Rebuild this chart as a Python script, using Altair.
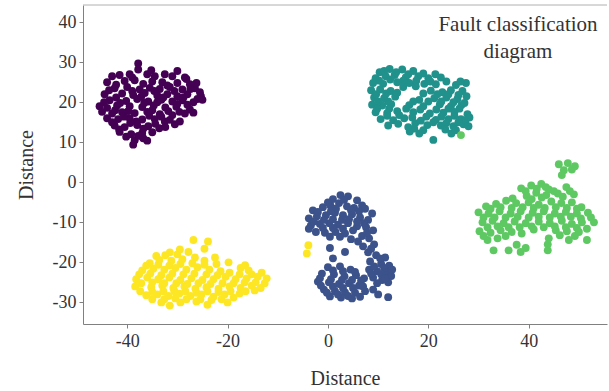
import altair as alt
import pandas as pd

# ---- data ----
purple_x = [-37.8, -37.8, -39.5, -43, -41.5, -36, -34.5, -32.5, -31, -28.5,
            -44, -40.5, -38.5, -35, -33, -30, -27.5,
            -42.5, -40, -37.5, -35.5, -33.5, -31.5, -29, -26.5, -25.5,
            -44.5, -41, -38.8, -36.5, -34, -32, -30, -28, -25.3,
            -43.5, -40.2, -38, -35.8, -33.2, -31, -29, -26.8,
            -45.5, -44, -42, -39.5, -37, -34.7, -32.4, -30.2, -27.5,
            -43, -41, -38.5, -36, -33.5, -31, -28.5,
            -44, -41.8, -39.5, -37, -34.5, -32.5, -30.5,
            -42.5, -40.5, -38, -35.8, -33.6,
            -41.5, -39.2, -37, -35,
            -38.5, -36.8, -38.8,
            -39, -35.2, -30, -42.2, -36.8, -32, -28.2, -26.2,
            -43.6, -39, -34.6, -30.6, -27.4,
            -42.2, -37.2, -32.8, -28.8, -26, -25,
            -44.6, -41.4, -36.6, -34, -30, -28,
            -45, -42.4, -39.8, -35, -31.8, -29.6, -26.8,
            -43, -40.6, -38.2, -35.6, -33.2, -31.5, -29.5,
            -41.6, -39.4, -36.8, -34.4, -32.4,
            -40.2, -37.8, -36]
purple_y = [29.7, 28.2, 27.0, 26.5, 26.8, 27, 26.5, 27, 26.5, 26.2,
            25, 25.3, 25.5, 25.2, 25, 24.8, 24.5,
            23.5, 23.8, 23.2, 23.6, 23.3, 23.8, 23.2, 23.5, 22.5,
            22, 22.2, 21.8, 22.3, 21.7, 22, 21.5, 22, 21.5,
            20.5, 20.3, 20.8, 20.2, 20.6, 20.2, 20.5, 20,
            19, 18.6, 19.2, 19, 18.8, 19.2, 18.7, 18.9, 18.2,
            17.2, 17.5, 17.3, 17.6, 17, 16.8, 17.2,
            16, 15.8, 16, 15.7, 15.8, 15.2, 14.5,
            14.2, 13.8, 14.3, 14, 13.5,
            12.6, 12, 12.3, 12.5,
            10.5, 11, 9.4,
            26.2, 28, 27.8, 24.4, 24.6, 24.2, 25.8, 24.8,
            23, 22.8, 22.8, 22.8, 23.3,
            21.2, 21.4, 21.2, 21.2, 20.8, 20.6,
            20, 19.8, 19.8, 20, 19.6, 19.4,
            17.6, 18, 17.8, 18, 17.8, 17.6, 17.4,
            15, 16.4, 15.2, 16.6, 16.4, 15.6, 15.2,
            13.2, 14.8, 13.4, 14.6, 13.8,
            11.4, 11.6, 10.4]

teal_x = [10.3, 12.3, 14.8, 17,
          9.5, 11.5, 13.3, 15.5, 18, 20, 22.5,
          9, 11, 13.8, 16.2, 19.2, 21.5, 25.5, 27.5,
          8.6, 10.4, 12.5, 15, 17.5, 20.5, 22.8, 24.5, 26.8,
          9.2, 11.2, 13.4, 18.2, 21.2, 23.6, 25.8, 27.6,
          8.8, 10.8, 12.6, 16.2, 19, 22.3, 24.5, 26.6,
          9.5, 11.8, 13.8, 17, 20.3, 23, 25.2, 27.8,
          10.5, 13, 15.2, 18.5, 21.5, 24, 26.5, 28.2,
          16, 19.8, 22.5, 25, 27,
          16.3, 18.2, 24.6, 25.5,
          21,
          11.2, 13.6, 16, 19, 21.4,
          10.2, 12.4, 15, 17.6, 20.4, 23.6, 26.4,
          9.6, 11.6, 13.8, 19, 21.8, 24, 26,
          10, 12, 17, 20, 22.6, 25, 27.2,
          9.8, 12.2, 15.6, 18.4, 21.6, 24, 26.2,
          11.8, 14.2, 16.8, 19.6, 22.6, 25.2, 27.4,
          12, 14, 17.4, 21, 23.6, 26, 28,
          17.2, 19, 23.4]
teal_y = [27.5, 28.3, 28.2, 27.8,
          26, 26.5, 26.8, 26.2, 26.5, 26, 26.2,
          24.8, 24.6, 25, 24.8, 24.6, 24.5, 24.3, 24.8,
          23, 23.2, 22.8, 23.8, 24.0, 22.9, 22.5, 23, 22.8,
          21.2, 21, 21.4, 20.6, 21, 21.2, 20.8, 21.5,
          19.4, 19.2, 19.5, 19.3, 19, 19.5, 19, 19.3,
          17.5, 17.3, 17.8, 17.5, 17.2, 17.4, 17.6, 17,
          15.8, 15.5, 16, 15.4, 15.6, 15.8, 15.8, 16.2,
          13.8, 14.3, 14.2, 14, 14.5,
          12.7, 12.2, 12.2, 13,
          10.6,
          27.8, 27.5, 27, 27.2, 27,
          25.4, 25.7, 25.4, 25.4, 25.2, 25.2, 25.2,
          22, 22.2, 22.4, 22.2, 22, 22, 21.8,
          20.2, 20.2, 20.2, 20.2, 20.2, 20, 19.8,
          18.4, 18.4, 18.4, 18.2, 18.2, 18.4, 18.4,
          16.6, 16.8, 16.2, 16.4, 16.4, 16.6, 15.4,
          14.2, 14.6, 14.8, 15, 14.8, 15, 14,
          13.4, 13, 13.2]

blue_x = [2.5, 4, 1, 5.8, 6.8,
          -3, -1, 0.5, 2.2, 3.8, 5.2, 7.4, 8.8,
          -3.8, -2.2, -0.4, 1.4, 3, 4.8, 6.4, 8,
          -3.4, -1.6, 0.3, 2, 4, 5.8, 7.6, 9,
          -2.4, -0.6, 1.5, 3.4, 6.8, 8.2, 4.6, 9.2, 7,
          0.4, 1, 3.4, 8,
          0, 2.4, 4.5, -1.2, 1.2, 3.3, 5.6, 7.2,
          -2, 0.2, 2.2, 4.2, 6.2, -0.8, 1.4, 3.4, 5.4, 7.4, 2.6, 4.8, 0.4,
          9.6, 11.4, 8.4, 10.6, 12.2, 8.2, 9.8, 11.8, 12.6, 9, 10.8, 12,
          10, 12, 9,
          3.2, 0, 1.6, 4.6, 6.2, -2, 0.6, 2.8, -2.8, -0.8, 1, 4.2, 5.8, 7.2,
          -3.8, -1, 1, 3, 5, 7.8, 0.4, 2.4, 6, 8.6,
          1, 3, 5.4, -1.6, 0.6, 2.8, 4.8, 6.6, -1.4, 1, 3, 5, 7, 2, 4, 6.4, -0.2,
          10.4, 9.2, 11.2, 10.6, 8.6, 12.8, 11.4, 9.8]
blue_y = [-3.2, -3.5, -4.2, -4.5, -5.8,
          -7, -6.2, -5.8, -5.2, -6, -6.4, -6.6, -7.8,
          -9, -8.5, -8.2, -7.6, -8.2, -8, -8.8, -9.4,
          -10.8, -10.4, -10.2, -10.6, -10.2, -11, -11.2, -12,
          -12.4, -12.6, -12.4, -12.8, -13.4, -14, -14.2, -15.5, -16,
          -16.4, -19, -17.4, -17.5,
          -21.2, -21, -21.8, -22.8, -23, -23.5, -23.2, -24,
          -24.8, -25, -25.4, -25.2, -25.8, -26.8, -27.2, -27.5, -27.6, -27.2, -28.8, -29, -28.5,
          -18.2, -18.8, -19.8, -20.4, -20.8, -21.8, -22.2, -22.6, -23.4, -23.8, -24.4, -25,
          -28, -28.7, -26.8,
          -4.4, -5, -6.6, -7, -7.2, -7.4, -7.2, -9.4, -9.8, -9.4, -9.2, -9.2, -9.8, -10.2,
          -11.6, -11.4, -11.4, -11.6, -12, -12.6, -13.6, -13.6, -14.8, -16.6,
          -22, -22.2, -22.4, -24, -24.2, -24.4, -24.4, -24.6, -25.8, -26, -26.4, -26.4, -26, -28, -28.4, -28.6, -27.6,
          -19, -21, -21.4, -23, -22.8, -21.8, -24, -25.2]

green_x = [46, 47.8, 47, 48.6, 46.6, 49.2,
           38.5, 40.5, 42.5, 44, 41.5, 43.5, 45.8, 47.5, 49, 39.6,
           31.5, 33.5, 35.5, 37.5, 40, 42, 44.5, 46.5, 48.6, 50.5,
           30, 32, 34.2, 36.4, 38.4, 40.8, 43, 45.2, 47.4, 49.6, 51.8,
           30.8, 32.8, 35, 37.2, 39.4, 42, 44.2, 46.6, 48.6, 50.6, 53,
           30.2, 32.4, 34.4, 36.6, 38.6, 41, 45.4, 47.6, 50,
           31.8, 33.8, 48, 51.6, 44,
           33, 36, 37.6, 39.4, 38.4, 43.8, 43.8, 40.6, 26.5,
           39.4, 41.6, 43.4, 45, 46.8, 48.2, 42.6, 40.6, 36.8,
           32.4, 34.4, 36.6, 38.8, 41, 43.2, 45.4, 47.6, 49.6,
           31, 33.2, 35.4, 37.8, 40, 42, 44.2, 46.4, 48.4, 50.4, 52.4,
           31.8, 33.8, 36, 38.2, 43, 45.2, 47.4, 49.6, 51.6,
           31, 35.4, 46.2, 49.2]
green_y = [4.5, 4.8, 3, 3.2, 1.8, 4,
           -1.5, -0.8, -0.4, -1.8, -2.6, -3.2, -2.8, -1.2, -3, -3.4,
           -6, -5.4, -4.6, -5.2, -5, -5.6, -4.8, -5.2, -5, -6.2,
           -7.5, -7.8, -7.2, -7.8, -7.2, -7.6, -7.2, -7.8, -7.4, -7.8, -7.6,
           -10, -9.6, -10.2, -9.8, -10.2, -9.8, -10.2, -9.6, -10.4, -10, -10,
           -12.2, -12.6, -12, -12.4, -12.8, -11.8, -12, -12.2, -12.4,
           -14.4, -14, -14.4, -14.4, -14,
           -17, -17, -15.6, -16.4, -17.4, -17, -15.5, -11, 11.8,
           -2.2, -1.6, -1.2, -2.2, -3.6, -2.2, -3.8, -4.2, -4,
           -6.6, -6.2, -6.4, -6.2, -6.4, -6.4, -6.2, -6.4, -6.6,
           -8.8, -8.8, -8.8, -8.6, -8.8, -8.6, -8.8, -8.6, -8.6, -9, -8.8,
           -11.2, -11, -11.2, -11.2, -11.2, -11, -11.2, -11.4, -11.6,
           -13.4, -13.4, -13.2, -13.4]

yellow_x = [-26.8, -23.9, -29.5, -31.5, -27.8,
            -35.5, -33.6, -31.2, -29, -26.5, -24.6, -22.5, -19.8,
            -37, -34.8, -32.6, -30.4, -28.2, -26, -23.6, -21.4, -17.4, -15.8,
            -38.2, -36, -33.8, -31.6, -29.4, -27.2, -25, -22.8, -20.4, -18.4, -16.2, -14, -12.2,
            -38.4, -35.2, -33, -30.8, -28.6, -26.4, -24.2, -21.8, -19.6, -17.4, -15.2, -13.4,
            -36.2, -34, -31.8, -29.6, -27.4, -25.2, -22.8, -20.6, -17.6,
            -33.2, -31.5, -29.4, -24, -26.2, -20,
            -3.9, -4.2,
            -34.2, -32.4, -30, -24.6, -16.5,
            -36.2, -33.8, -31.6, -29.4, -27, -24.6, -22.2,
            -37.6, -35.4, -33.2, -31, -28.8, -26.6, -24.2, -22, -19.6, -17.6, -15.2, -13.2,
            -37.2, -35, -32.6, -30.2, -28, -25.8, -23.4, -21, -18.8, -16.6, -14.4, -12.6,
            -37.4, -35, -32.8, -30.6, -28.4, -26.2, -24, -21.8, -19.4, -16.4, -14.6,
            -35, -32.6, -30.4, -28.2, -25.4, -23.2, -21.2, -18.8]
yellow_y = [-14.4, -14.8, -16.8, -17.5, -17.4,
            -20.2, -19.4, -19.6, -19.2, -18.8, -19.6, -18.8, -20,
            -22, -21.6, -21.8, -21.4, -21.8, -21.2, -21.8, -22.2, -21.4, -22,
            -24.2, -23.8, -24.2, -23.8, -24.4, -24, -24.4, -24.2, -23.6, -24.2, -24, -23.6, -24,
            -26, -26.2, -25.8, -26.4, -26, -26.6, -26.2, -26.6, -26, -26.4, -25.8, -26.4,
            -28.2, -28, -28.4, -27.8, -28.4, -28, -28.6, -28, -27.8,
            -30, -30.8, -30, -30.6, -29.8, -30,
            -15.7, -17.8,
            -18.4, -18.2, -18, -16.6, -20.7,
            -20.8, -20.6, -20.8, -20.4, -20.2, -20.6, -20.4,
            -23, -22.8, -23.2, -22.8, -23, -22.8, -23, -23.2, -22.6, -23, -23, -22.6,
            -25.2, -25, -25.2, -25.2, -25.4, -25.2, -25.4, -25.2, -25.2, -25, -25, -25.2,
            -27.2, -27.4, -27.2, -27.2, -27.2, -27.6, -27.2, -27.4, -27.2, -27.2, -27,
            -29.2, -29.2, -29, -29.2, -29.2, -29.4, -29.2, -28.8]

class_names = ["A", "B", "C", "D", "E"]
class_colors = ["#440154", "#3b528b", "#21918c", "#5ec962", "#fde725"]
x_ticks = [-40, -20, 0, 20, 40]
y_ticks = [-30, -20, -10, 0, 10, 20, 30, 40]
note_lines = ["Fault classification", "diagram"]

# ---- table ----
frames = []
for name, xs, ys in [("A", purple_x, purple_y), ("C", teal_x, teal_y),
                     ("B", blue_x, blue_y), ("D", green_x, green_y),
                     ("E", yellow_x, yellow_y)]:
    frames.append(pd.DataFrame({"x": xs, "y": ys, "cls": name}))
df = pd.concat(frames, ignore_index=True)

W, H = 524, 319
FONT = "Liberation Serif"
LBL = "'' + datum.value"

points = alt.Chart(df).mark_circle(size=62, opacity=1).encode(
    x=alt.X("x:Q", scale=alt.Scale(domain=[-48.8, 55.6], nice=False, zero=False),
            axis=alt.Axis(title="Distance", values=x_ticks, grid=False, labelExpr=LBL,
                          domainColor="#808080", tickColor="#808080", tickSize=4,
                          labelFont=FONT, labelFontSize=18, labelColor="#333333",
                          labelPadding=4, titleFont=FONT, titleFontSize=20,
                          titleFontWeight="normal", titleColor="#333333",
                          titlePadding=18)),
    y=alt.Y("y:Q", scale=alt.Scale(domain=[-35.4, 44.3], nice=False, zero=False),
            axis=alt.Axis(title="Distance", values=y_ticks, grid=False, labelExpr=LBL,
                          domainColor="#808080", tickColor="#808080", tickSize=4,
                          labelFont=FONT, labelFontSize=18, labelColor="#333333",
                          labelPadding=3, titleFont=FONT, titleFontSize=20,
                          titleFontWeight="normal", titleColor="#333333",
                          titlePadding=16)),
    color=alt.Color("cls:N", scale=alt.Scale(domain=class_names, range=class_colors),
                    legend=None),
)

top_line = alt.Chart(pd.DataFrame({"a": [0]})).mark_rule(
    color="#b0b0b0", strokeWidth=1).encode(
    x=alt.value(0), x2=alt.value(W), y=alt.value(0))

note = alt.Chart(pd.DataFrame({"t": [note_lines]})).mark_text(
    font=FONT, fontSize=21, color="#333333", align="center", baseline="middle",
    lineHeight=27).encode(
    text="t", x=alt.value(435), y=alt.value(20))

chart = alt.layer(top_line, points, note).properties(
    width=W, height=H,
    autosize=alt.AutoSizeParams(type="none"),
    padding={"left": 83, "top": 5, "right": 2, "bottom": 67},
    background="white",
).configure_view(stroke=None)

chart.save("out.html", embed_options={"renderer": "svg", "actions": False})
